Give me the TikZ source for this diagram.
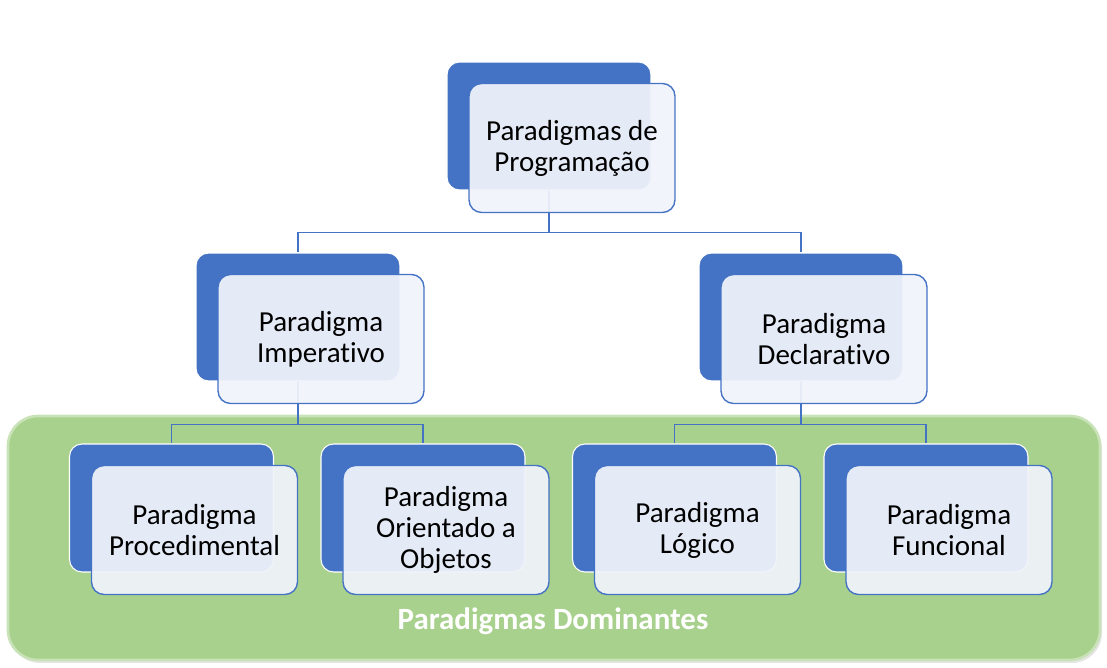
\documentclass[tikz,border=0pt]{standalone}
\usepackage{fontspec}
\setmainfont{Carlito}[Ligatures=NoCommon]
\usepackage{xcolor}
\definecolor{scheme}{HTML}{4472C4}
\definecolor{pale}{HTML}{F0F3FA}
\definecolor{domgreen}{HTML}{A9D18E}
\definecolor{domedge}{HTML}{C9E2B8}

\begin{document}
\begin{tikzpicture}[x=0.02cm, y=-0.02cm,
		back/.style={fill=scheme, draw=white, line width=0.6pt, rounded corners=0.25cm, minimum width=4.08cm, minimum height=2.56cm},
		front/.style={fill=pale, fill opacity=0.94, text opacity=1, draw=scheme, line width=0.8pt, rounded corners=0.25cm, minimum width=4.12cm, minimum height=2.58cm, align=center, font=\fontsize{16.5}{17.6}\selectfont},
		link/.style={draw=scheme, line width=0.85pt}]
			\useasboundingbox (0,0) rectangle (1107,668);
			
			% coordinates of the blue blocks
			\coordinate (o1) at (549,126);
			\coordinate (o2) at (298,317);
			\coordinate (o3) at (801,317);
			\coordinate (o4) at (171.5,508);
			\coordinate (o5) at (423,508);
			\coordinate (o6) at (674.5,508);
			\coordinate (o7) at (926,508);
			
			% green area
			\fill[black!10, rounded corners=0.6cm] (10,419) rectangle (1102,663);
			\draw[rounded corners=0.6cm, fill=domgreen, draw=domedge, line width=1.5pt] (8,416) rectangle (1100,660);
			\node (dom) at (553,621) [text=white, font=\fontsize{17.6}{19}\selectfont\bfseries]{Paradigmas Dominantes};
			
			\node (b1) at (o1) [back] {};
			\node (b2) at (o2) [back] {};
			\node (b3) at (o3) [back] {};
			\node (b4) at (o4) [back] {};
			\node (b5) at (o5) [back] {};
			\node (b6) at (o6) [back] {};
			\node (b7) at (o7) [back] {};
			
			\draw[link] (b1.south) -- ++(0,42) -| (b2.north);
			\draw[link] (b1.south) -- ++(0,42) -| (b3.north);
			\draw[link] (b2.south) -- ++(0,43) -| (b4.north);
			\draw[link] (b2.south) -- ++(0,43) -| (b5.north);
			\draw[link] (b3.south) -- ++(0,43) -| (b6.north);
			\draw[link] (b3.south) -- ++(0,43) -| (b7.north);
			
			\node (f1) at ([shift={(23,22)}]o1) [front] {Paradigmas de\\Programação};
			\node (f2) at ([shift={(23,22)}]o2) [front] {Paradigma\\Imperativo};
			\node (f3) at ([shift={(23,22)}]o3) [front] {Paradigma\\Declarativo};
			\node (f4) at ([shift={(23,22)}]o4) [front] {Paradigma\\Procedimental};
			\node (f5) at ([shift={(23,22)}]o5) [front] {Paradigma\\Orientado a\\Objetos};
			\node (f6) at ([shift={(23,22)}]o6) [front] {Paradigma\\Lógico};
			\node (f7) at ([shift={(23,22)}]o7) [front] {Paradigma\\Funcional};
		\end{tikzpicture}
\end{document}
